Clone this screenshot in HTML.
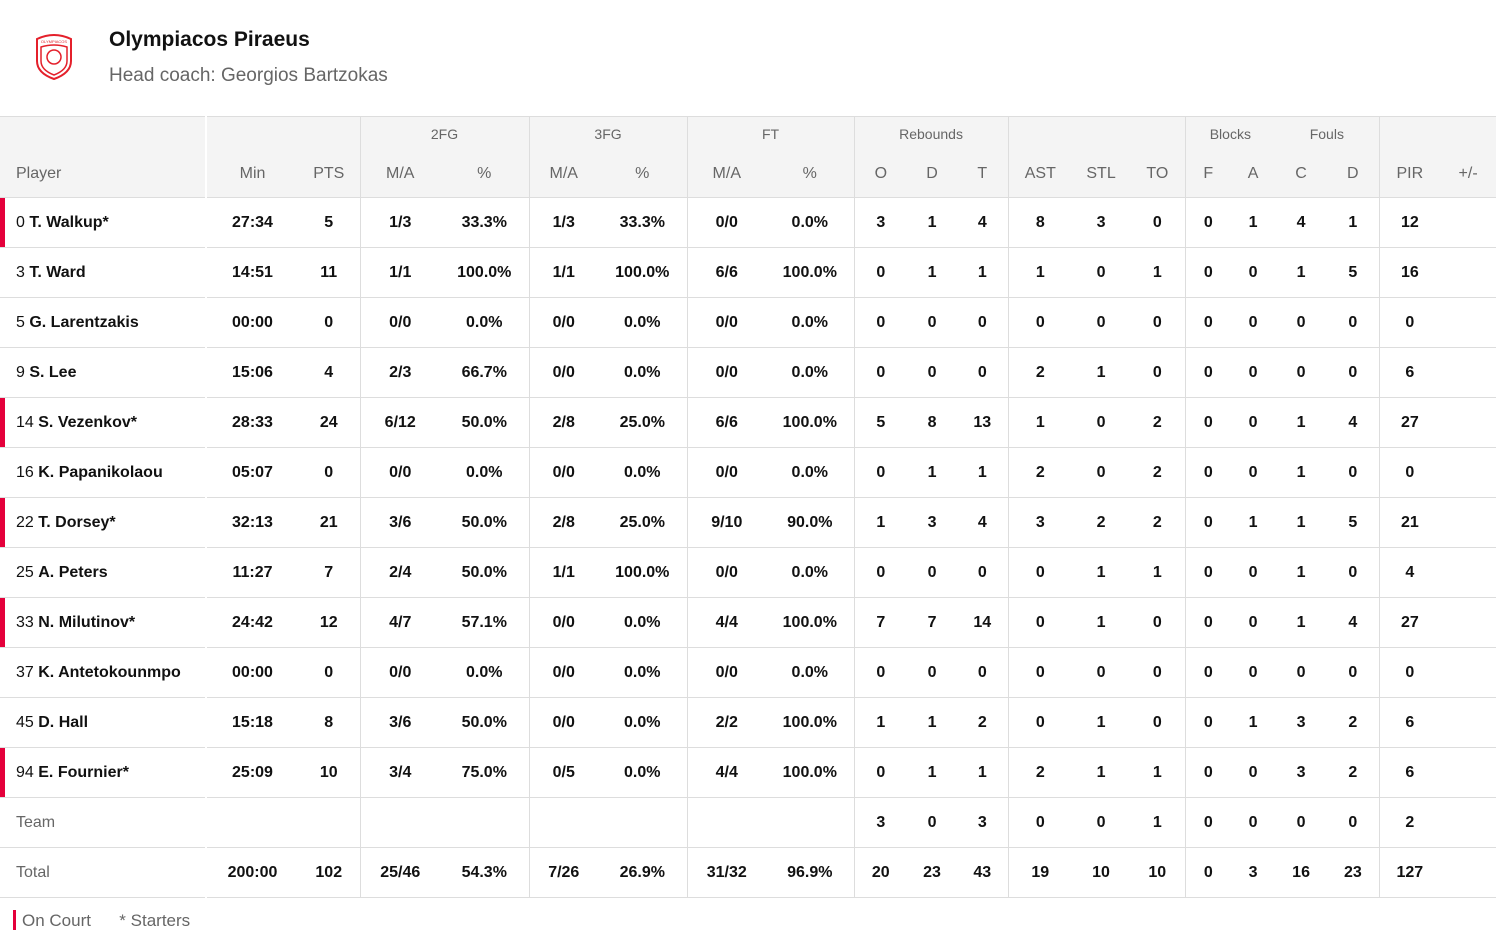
<!DOCTYPE html>
<html><head><meta charset="utf-8"><style>
body{margin:0;width:1496px;height:936px;background:#fff;font-family:"Liberation Sans",sans-serif;position:relative;overflow:hidden}
.logo{position:absolute;left:34px;top:33px}
.t1{position:absolute;left:109px;top:28px;font-size:21px;font-weight:bold;color:#111}
.t2{position:absolute;left:109px;top:65px;font-size:19px;color:#666}
table{position:absolute;left:0;top:116px;border-collapse:collapse;table-layout:fixed;width:1496px}
td{padding:0;text-align:center;font-size:16px;font-weight:bold;color:#111;border-bottom:1px solid #ddd;height:49px;white-space:nowrap}
tr.h1 td{height:34px;background:#f4f4f4;font-weight:normal;color:#666;font-size:14px;border-bottom:none;border-top:1px solid #ddd}
tr.h2 td{height:46px;background:#f4f4f4;font-weight:normal;color:#666;font-size:16px}
td.p{text-align:left;padding-left:16px;font-weight:normal}
td.p b{font-weight:bold}
td.s{box-shadow:inset 5px 0 0 #e4003b}
.g{border-left:1px solid #ddd}
.w{border-left:2px solid #fff}
td.n{font-weight:normal;color:#666}
.leg{position:absolute;top:910px;left:13px;font-size:17px;color:#666}
.leg span.bar{display:inline-block;width:3px;height:20px;background:#e4003b;vertical-align:-4px;margin-right:6px}
</style></head><body>
<svg class="logo" width="40" height="48" viewBox="0 0 40 48"><path d="M3 6 Q20 -2 37 6 L37 28 Q37 40 20 46 Q3 40 3 28Z" fill="#fff" stroke="#e4202b" stroke-width="2"/><path d="M7 14 Q20 10 33 14 L33 28 Q33 37 20 42 Q7 37 7 28Z" fill="none" stroke="#e4202b" stroke-width="1.5"/><circle cx="20" cy="24" r="7" fill="none" stroke="#e4202b" stroke-width="1.5"/><text x="20" y="10" font-size="4" fill="#e4202b" text-anchor="middle">OLYMPIACOS</text></svg>
<div class="t1">Olympiacos Piraeus</div>
<div class="t2">Head coach: Georgios Bartzokas</div>
<table>
<colgroup><col style="width:206px"><col style="width:92px"><col style="width:62px"><col style="width:80px"><col style="width:89px"><col style="width:69px"><col style="width:89px"><col style="width:79px"><col style="width:88px"><col style="width:53px"><col style="width:50px"><col style="width:51px"><col style="width:64px"><col style="width:58px"><col style="width:55px"><col style="width:46px"><col style="width:44px"><col style="width:52px"><col style="width:52px"><col style="width:61px"><col style="width:56px"></colgroup>
<tr class="h1"><td></td><td class="w" colspan="2"></td><td class="g" colspan="2">2FG</td><td class="g" colspan="2">3FG</td><td class="g" colspan="2">FT</td><td class="g" colspan="3">Rebounds</td><td class="g" colspan="3"></td><td class="g" colspan="2">Blocks</td><td colspan="2">Fouls</td><td class="g" colspan="2"></td></tr>
<tr class="h2"><td class="p">Player</td><td class="w">Min</td><td>PTS</td><td class="g">M/A</td><td>%</td><td class="g">M/A</td><td>%</td><td class="g">M/A</td><td>%</td><td class="g">O</td><td>D</td><td>T</td><td class="g">AST</td><td>STL</td><td>TO</td><td class="g">F</td><td>A</td><td>C</td><td>D</td><td class="g">PIR</td><td>+/-</td></tr>
<tr><td class="p s">0 <b>T. Walkup*</b></td><td class="w">27:34</td><td>5</td><td class="g">1/3</td><td>33.3%</td><td class="g">1/3</td><td>33.3%</td><td class="g">0/0</td><td>0.0%</td><td class="g">3</td><td>1</td><td>4</td><td class="g">8</td><td>3</td><td>0</td><td class="g">0</td><td>1</td><td>4</td><td>1</td><td class="g">12</td><td></td></tr>
<tr><td class="p">3 <b>T. Ward</b></td><td class="w">14:51</td><td>11</td><td class="g">1/1</td><td>100.0%</td><td class="g">1/1</td><td>100.0%</td><td class="g">6/6</td><td>100.0%</td><td class="g">0</td><td>1</td><td>1</td><td class="g">1</td><td>0</td><td>1</td><td class="g">0</td><td>0</td><td>1</td><td>5</td><td class="g">16</td><td></td></tr>
<tr><td class="p">5 <b>G. Larentzakis</b></td><td class="w">00:00</td><td>0</td><td class="g">0/0</td><td>0.0%</td><td class="g">0/0</td><td>0.0%</td><td class="g">0/0</td><td>0.0%</td><td class="g">0</td><td>0</td><td>0</td><td class="g">0</td><td>0</td><td>0</td><td class="g">0</td><td>0</td><td>0</td><td>0</td><td class="g">0</td><td></td></tr>
<tr><td class="p">9 <b>S. Lee</b></td><td class="w">15:06</td><td>4</td><td class="g">2/3</td><td>66.7%</td><td class="g">0/0</td><td>0.0%</td><td class="g">0/0</td><td>0.0%</td><td class="g">0</td><td>0</td><td>0</td><td class="g">2</td><td>1</td><td>0</td><td class="g">0</td><td>0</td><td>0</td><td>0</td><td class="g">6</td><td></td></tr>
<tr><td class="p s">14 <b>S. Vezenkov*</b></td><td class="w">28:33</td><td>24</td><td class="g">6/12</td><td>50.0%</td><td class="g">2/8</td><td>25.0%</td><td class="g">6/6</td><td>100.0%</td><td class="g">5</td><td>8</td><td>13</td><td class="g">1</td><td>0</td><td>2</td><td class="g">0</td><td>0</td><td>1</td><td>4</td><td class="g">27</td><td></td></tr>
<tr><td class="p">16 <b>K. Papanikolaou</b></td><td class="w">05:07</td><td>0</td><td class="g">0/0</td><td>0.0%</td><td class="g">0/0</td><td>0.0%</td><td class="g">0/0</td><td>0.0%</td><td class="g">0</td><td>1</td><td>1</td><td class="g">2</td><td>0</td><td>2</td><td class="g">0</td><td>0</td><td>1</td><td>0</td><td class="g">0</td><td></td></tr>
<tr><td class="p s">22 <b>T. Dorsey*</b></td><td class="w">32:13</td><td>21</td><td class="g">3/6</td><td>50.0%</td><td class="g">2/8</td><td>25.0%</td><td class="g">9/10</td><td>90.0%</td><td class="g">1</td><td>3</td><td>4</td><td class="g">3</td><td>2</td><td>2</td><td class="g">0</td><td>1</td><td>1</td><td>5</td><td class="g">21</td><td></td></tr>
<tr><td class="p">25 <b>A. Peters</b></td><td class="w">11:27</td><td>7</td><td class="g">2/4</td><td>50.0%</td><td class="g">1/1</td><td>100.0%</td><td class="g">0/0</td><td>0.0%</td><td class="g">0</td><td>0</td><td>0</td><td class="g">0</td><td>1</td><td>1</td><td class="g">0</td><td>0</td><td>1</td><td>0</td><td class="g">4</td><td></td></tr>
<tr><td class="p s">33 <b>N. Milutinov*</b></td><td class="w">24:42</td><td>12</td><td class="g">4/7</td><td>57.1%</td><td class="g">0/0</td><td>0.0%</td><td class="g">4/4</td><td>100.0%</td><td class="g">7</td><td>7</td><td>14</td><td class="g">0</td><td>1</td><td>0</td><td class="g">0</td><td>0</td><td>1</td><td>4</td><td class="g">27</td><td></td></tr>
<tr><td class="p">37 <b>K. Antetokounmpo</b></td><td class="w">00:00</td><td>0</td><td class="g">0/0</td><td>0.0%</td><td class="g">0/0</td><td>0.0%</td><td class="g">0/0</td><td>0.0%</td><td class="g">0</td><td>0</td><td>0</td><td class="g">0</td><td>0</td><td>0</td><td class="g">0</td><td>0</td><td>0</td><td>0</td><td class="g">0</td><td></td></tr>
<tr><td class="p">45 <b>D. Hall</b></td><td class="w">15:18</td><td>8</td><td class="g">3/6</td><td>50.0%</td><td class="g">0/0</td><td>0.0%</td><td class="g">2/2</td><td>100.0%</td><td class="g">1</td><td>1</td><td>2</td><td class="g">0</td><td>1</td><td>0</td><td class="g">0</td><td>1</td><td>3</td><td>2</td><td class="g">6</td><td></td></tr>
<tr><td class="p s">94 <b>E. Fournier*</b></td><td class="w">25:09</td><td>10</td><td class="g">3/4</td><td>75.0%</td><td class="g">0/5</td><td>0.0%</td><td class="g">4/4</td><td>100.0%</td><td class="g">0</td><td>1</td><td>1</td><td class="g">2</td><td>1</td><td>1</td><td class="g">0</td><td>0</td><td>3</td><td>2</td><td class="g">6</td><td></td></tr>
<tr><td class="p n">Team</td><td class="w"></td><td></td><td class="g"></td><td></td><td class="g"></td><td></td><td class="g"></td><td></td><td class="g">3</td><td>0</td><td>3</td><td class="g">0</td><td>0</td><td>1</td><td class="g">0</td><td>0</td><td>0</td><td>0</td><td class="g">2</td><td></td></tr>
<tr><td class="p n">Total</td><td class="w">200:00</td><td>102</td><td class="g">25/46</td><td>54.3%</td><td class="g">7/26</td><td>26.9%</td><td class="g">31/32</td><td>96.9%</td><td class="g">20</td><td>23</td><td>43</td><td class="g">19</td><td>10</td><td>10</td><td class="g">0</td><td>3</td><td>16</td><td>23</td><td class="g">127</td><td></td></tr>
</table>
<div class="leg"><span class="bar"></span>On Court &nbsp;&nbsp;&nbsp;&nbsp; * Starters</div>
</body></html>
